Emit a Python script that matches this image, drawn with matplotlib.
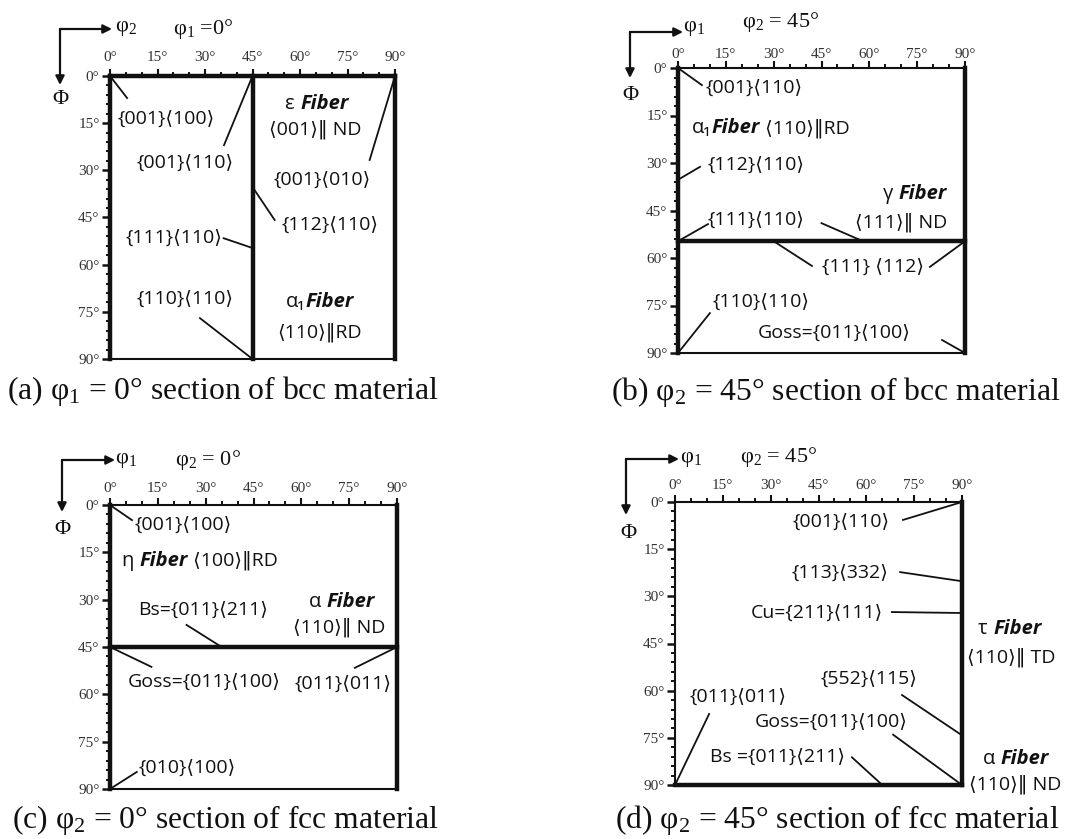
import matplotlib
matplotlib.use("Agg")
import matplotlib.pyplot as plt
import matplotlib.transforms as mtransforms
from matplotlib.ticker import MultipleLocator

plt.rcParams["mathtext.fontset"] = "custom"
plt.rcParams["mathtext.rm"] = "Liberation Serif"
plt.rcParams["mathtext.it"] = "Liberation Serif:italic"

FIG_W, FIG_H, DPI = 1067, 839, 100

# ---------------- data ----------------
angle_ticks = [0, 15, 30, 45, 60, 75, 90]
angle_tick_labels = ["0°", "15°", "30°", "45°", "60°", "75°", "90°"]

captions = [r"(a) φ$_\mathrm{1}$ = 0° section of bcc material",
            r"(b) φ$_\mathrm{2}$ = 45° section of bcc material",
            r"(c) φ$_\mathrm{2}$ = 0° section of fcc material",
            r"(d) φ$_\mathrm{2}$ = 45° section of fcc material"]
section_titles = [r"φ$_\mathrm{1}$ =0°", r"φ$_\mathrm{2}$ = 45°", r"φ$_\mathrm{2}$ = 0°", r"φ$_\mathrm{2}$ = 45°"]
horizontal_axis_names = [r"φ$_\mathrm{2}$", r"φ$_\mathrm{1}$", r"φ$_\mathrm{1}$", r"φ$_\mathrm{1}$"]
vertical_axis_name = "Φ"

# thick fibre / edge lines  (horizontal angle, Φ)
a_fibres = [[(0, 0), (90, 0)], [(45, 0), (45, 90)], [(0, 0), (0, 90)], [(90, 0), (90, 90)]]
b_fibres = [[(0, 0), (0, 90)], [(0, 54.7), (90, 54.7)], [(90, 0), (90, 90)]]
c_fibres = [[(0, 0), (0, 90)], [(0, 45), (90, 45)], [(90, 0), (90, 90)]]
d_fibres = [[(90, 0), (90, 90)], [(0, 90), (90, 90)]]

# texture components: name, orientation points, leader ends, label anchor, alignment
a_names = ["{001}⟨100⟩", "{001}⟨110⟩", "{001}⟨010⟩", "{112}⟨110⟩", "{111}⟨110⟩", "{110}⟨110⟩"]
a_points = [[(0, 0)], [(45, 0)], [(90, 0)], [(45, 35.3)], [(45, 54.7)], [(45, 90)]]
a_leader_ends = [[(5.4, 7)], [(36, 22)], [(82, 26.7)], [(52, 45.8)], [(35.9, 51.6)], [(28.4, 77)]]
a_label_xy = [(2.5, 13.5), (8.5, 27.7), (67, 33), (54.3, 47.4), (35.4, 51.5), (8.5, 71)]
a_label_ha = ["left", "left", "center", "left", "right", "left"]

b_names = ["{001}⟨110⟩", "{112}⟨110⟩", "{111}⟨110⟩", "{111} ⟨112⟩", "{110}⟨110⟩", "Goss={011}⟨100⟩"]
b_points = [[(0, 0)], [(0, 35.3)], [(0, 54.7), (58, 54.7)], [(30, 54.7), (90, 54.7)],
            [(0, 90)], [(90, 90)]]
b_leader_ends = [[(7.5, 5.4)], [(6.9, 31.2)], [(9.4, 49.3), (45, 49)], [(42, 62.5), (79, 62.8)],
                 [(10, 77.4)], [(82.8, 85.9)]]
b_label_xy = [(8.5, 6.3), (9.1, 30.6), (9.4, 48), (45.2, 62.8), (10.7, 73.9), (49, 83.7)]
b_label_ha = ["left", "left", "left", "left", "left", "center"]

c_names = ["{001}⟨100⟩", "Bs={011}⟨211⟩", "Goss={011}⟨100⟩", "{011}⟨011⟩", "{010}⟨100⟩"]
c_points = [[(0, 0)], [(35, 45)], [(0, 45)], [(90, 45)], [(0, 90)]]
c_leader_ends = [[(6.9, 4.8)], [(24, 38)], [(13, 51.3)], [(76.8, 51.6)], [(8.4, 84.6)]]
c_label_xy = [(7.8, 6.3), (8.8, 33.3), (5.7, 56), (58, 56.5), (8.9, 83.3)]
c_label_ha = ["left", "left", "left", "left", "left"]

d_names = ["{001}⟨110⟩", "{113}⟨332⟩", "Cu={211}⟨111⟩", "{552}⟨115⟩", "{011}⟨011⟩",
           "Goss={011}⟨100⟩", "Bs ={011}⟨211⟩"]
d_points = [[(90, 0)], [(90, 25.2)], [(90, 35.3)], [(90, 74.2)], [(0, 90)], [(90, 90)], [(65, 90)]]
d_leader_ends = [[(71.5, 5.7)], [(70.6, 22.3)], [(68, 35)], [(71.2, 61.4)], [(10.7, 67.4)],
                 [(68.4, 74)], [(55.5, 81.2)]]
d_label_xy = [(67.4, 6.4), (66.8, 22.6), (65.2, 35.3), (75.9, 56.3), (4.7, 62),
              (73, 69.9), (53.3, 81)]
d_label_ha = ["right", "right", "right", "right", "left", "right", "right"]

# fibre titles: pieces (greek, bold-italic word, rest), anchor, alignment
a_fibre_titles = [(("ε ", "Fiber", ""), (65.4, 8.2), "center"),
                  (("", "", "⟨001⟩‖ ND"), (64.7, 16.2), "center"),
                  (("α₁", "Fiber", ""), (66.3, 71.2), "center"),
                  (("", "", "⟨110⟩‖RD"), (66.3, 80.8), "center")]
b_fibre_titles = [(("α₁", "Fiber", " ⟨110⟩‖RD"), (4.4, 18.3), "left"),
                  (("γ ", "Fiber", ""), (74.3, 39), "center"),
                  (("", "", "⟨111⟩‖ ND"), (70, 48), "center")]
c_fibre_titles = [(("η ", "Fiber", " ⟨100⟩‖RD"), (3.8, 16.8), "left"),
                  (("α ", "Fiber", ""), (72.6, 30), "center"),
                  (("", "", "⟨110⟩‖ ND"), (72, 38), "center")]
d_fibre_titles = [(("τ ", "Fiber", ""), (105, 39.7), "center"),
                  (("", "", "⟨110⟩‖ TD"), (105.6, 48.6), "center"),
                  (("α ", "Fiber", ""), (107, 81), "center"),
                  (("", "", "⟨110⟩‖ ND"), (106.6, 89), "center")]

# ---------------- layout / style (pixels) ----------------
boxes = [(110, 76, 395, 359), (678, 68, 965, 353), (110, 505, 397, 789), (675, 502, 962, 785)]
# header geometry relative to box top-left (dx right, dy down)
headers = [dict(corner=(-50, -47), hend=2, vend=9, name=(5, -47), title=(63, -47), phi=(-50, 24), top_pad=3.4),
           dict(corner=(-48, -36), hend=5, vend=10, name=(5, -40), title=(64, -46), phi=(-48, 27), top_pad=0),
           dict(corner=(-48, -45), hend=5, vend=7, name=(5, -45), title=(65, -45), phi=(-48, 25), top_pad=2.4),
           dict(corner=(-49, -43), hend=4, vend=13, name=(5, -43), title=(65, -45), phi=(-47, 32), top_pad=2.4)]
caption_xy = [(7, 391), (611, 392), (12, 820), (615, 820)]

SERIF = ["Liberation Serif", "DejaVu Serif"]
SANS = ["Open Sans", "DejaVu Sans"]
LABEL_SIZE = 14
FIBRE_SIZE = 14.5
CAPTION_SIZE = 22.8
INK = "#111111"

fig = plt.figure(figsize=(FIG_W / DPI, FIG_H / DPI), dpi=DPI)
renderer = fig.canvas.get_renderer()


def chain_text(ax, pieces, xy, ha):
    styles = [dict(family=SANS, size=FIBRE_SIZE),
              dict(family=SANS, size=FIBRE_SIZE, weight="bold", style="italic"),
              dict(family=SANS, size=LABEL_SIZE)]
    texts, widths = [], []
    for s, st in zip(pieces, styles):
        if not s:
            continue
        t = ax.text(xy[0], xy[1], s, ha="left", va="center_baseline", color=INK, **st)
        texts.append(t)
        widths.append(t.get_window_extent(renderer).width)
    total = sum(widths)
    off = -total / 2 if ha == "center" else 0
    for t, w in zip(texts, widths):
        t.set_transform(mtransforms.offset_copy(ax.transData, fig=fig, x=off, y=0, units="dots"))
        off += w


panels = [
    (a_fibres, a_names, a_points, a_leader_ends, a_label_xy, a_label_ha, a_fibre_titles),
    (b_fibres, b_names, b_points, b_leader_ends, b_label_xy, b_label_ha, b_fibre_titles),
    (c_fibres, c_names, c_points, c_leader_ends, c_label_xy, c_label_ha, c_fibre_titles),
    (d_fibres, d_names, d_points, d_leader_ends, d_label_xy, d_label_ha, d_fibre_titles),
]

for i, (fibres, names, points, lends, lxy, lha, ftitles) in enumerate(panels):
    L, T, R, B = boxes[i]
    bw, bh = R - L, B - T
    ax = fig.add_axes([L / FIG_W, 1 - B / FIG_H, bw / FIG_W, bh / FIG_H])
    ax.set_xlim(0, 90)
    ax.set_ylim(90, 0)
    for sp in ax.spines.values():
        sp.set_linewidth(1.5)
        sp.set_color(INK)
    ax.xaxis.tick_top()
    ax.set_xticks(angle_ticks)
    ax.set_xticklabels(angle_tick_labels, family=SERIF, fontsize=11, color="#333333")
    ax.set_yticks(angle_ticks)
    ax.set_yticklabels(angle_tick_labels, family=SERIF, fontsize=11, color="#333333")
    ax.xaxis.set_minor_locator(MultipleLocator(5))
    ax.yaxis.set_minor_locator(MultipleLocator(3))
    h = headers[i]
    ax.tick_params(axis="x", which="major", length=5, width=1.5, pad=h["top_pad"], colors=INK,
                   labelcolor="#333333")
    ax.tick_params(axis="y", which="major", length=6, width=1.8, pad=1.5, colors=INK,
                   labelcolor="#333333")
    ax.tick_params(which="minor", length=3, width=1.4, colors=INK)
    ax.tick_params(top=True, bottom=False, left=True, right=False, which="both")

    for (p0, p1) in fibres:
        ax.plot([p0[0], p1[0]], [p0[1], p1[1]], color=INK, lw=3.2, clip_on=False,
                solid_capstyle="projecting", zorder=4)

    for name, pts, ends, (tx, ty), ha in zip(names, points, lends, lxy, lha):
        for (px, py), (ex, ey) in zip(pts, ends):
            ax.plot([px, ex], [py, ey], color=INK, lw=1.3, clip_on=False, zorder=5)
        ax.text(tx, ty, name, ha=ha, va="center", family=SANS, fontsize=LABEL_SIZE, color=INK)

    for pieces, xy, ha in ftitles:
        chain_text(ax, pieces, xy, ha)

    def px2ax(dx, dy):
        return (dx / bw, 1 - dy / bh)

    cx, cy = h["corner"]
    for end in (px2ax(h["hend"], cy), px2ax(cx, h["vend"])):
        ax.annotate("", xy=end, xycoords="axes fraction",
                    xytext=px2ax(cx, cy), textcoords="axes fraction", annotation_clip=False,
                    arrowprops=dict(arrowstyle="-|>", lw=1.6, color=INK, mutation_scale=13,
                                    shrinkA=0, shrinkB=0))
    nx, ny = h["name"]
    ax.text(*px2ax(nx, ny), horizontal_axis_names[i], transform=ax.transAxes, ha="left",
            va="center", family=SERIF, fontsize=16, color=INK)
    tx_, ty_ = h["title"]
    ax.text(*px2ax(tx_, ty_), section_titles[i], transform=ax.transAxes, ha="left",
            va="center", family=SERIF, fontsize=16, color=INK)
    phx, phy = h["phi"]
    ax.text(*px2ax(phx, phy), vertical_axis_name, transform=ax.transAxes, ha="center",
            va="center", family=SERIF, fontsize=16, color=INK)

    capx, capy = caption_xy[i]
    fig.text(capx / FIG_W, 1 - capy / FIG_H, captions[i], ha="left", va="center",
             family=SERIF, fontsize=CAPTION_SIZE, color=INK)

fig.savefig("out.png", dpi=DPI)
